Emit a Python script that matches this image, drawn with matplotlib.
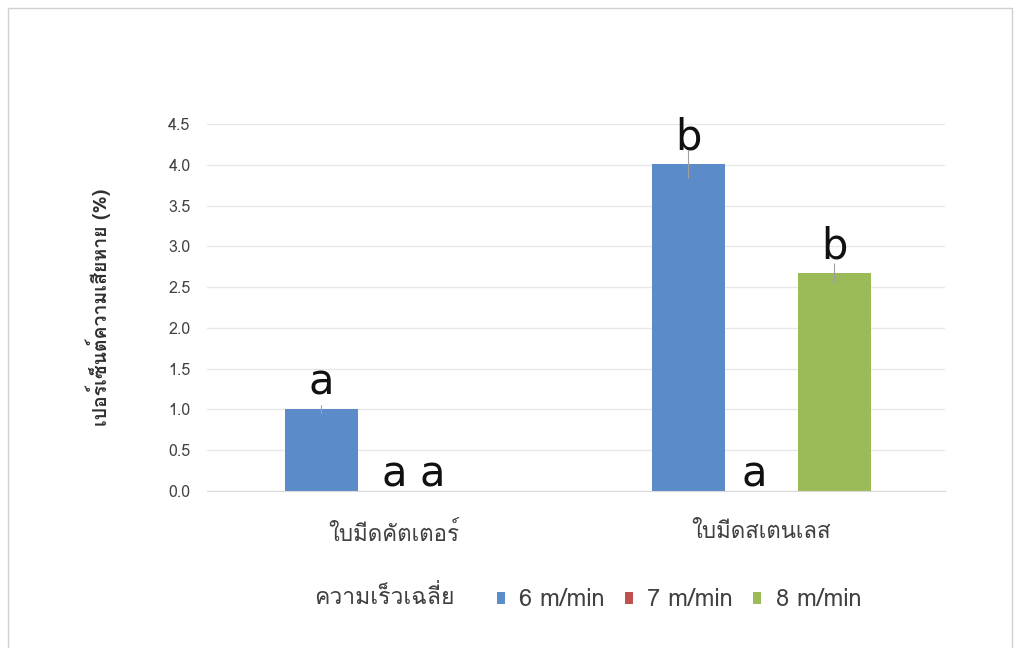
import numpy as np
import matplotlib
matplotlib.use("Agg")
import matplotlib.pyplot as plt
from matplotlib import font_manager
from matplotlib.ft2font import FT2Font
from matplotlib.patches import Rectangle

# data
groups = ["ใบมีดคัตเตอร์", "ใบมีดสเตนเลส"]
series = ["6 m/min", "7 m/min", "8 m/min"]
v6 = [1.00, 4.01]
v7 = [0.0, 0.0]
v8 = [0.0, 2.67]
e6 = [0.05, 0.17]
e7 = [0.0, 0.0]
e8 = [0.0, 0.12]
let6 = ["a", "b"]
let7 = ["a", "a"]
let8 = ["a", "b"]
colors = ["#5B8BC9", "#C0504D", "#9BBB59"]


def thai_font():
    # look for an installed font that covers Thai
    for f in font_manager.fontManager.ttflist:
        try:
            ft = FT2Font(f.fname)
            if ft.get_char_index(ord("ก")) and ft.get_char_index(ord("a")):
                return f.name
        except Exception:
            pass
    return "DejaVu Sans"


th = thai_font()
plt.rcParams["font.family"] = [th, "DejaVu Sans"]

fig = plt.figure(figsize=(10.2, 6.48), dpi=100)
fig.patches.append(Rectangle((0.008, -0.1), 0.984, 1.088, transform=fig.transFigure,
                             fill=False, edgecolor="#d0d0d0", lw=1))
ax = fig.add_axes([0.203, 0.2423, 0.7235, 0.5663])

x = np.arange(len(groups))
w = 0.199
vals = [v6, v7, v8]
errs = [e6, e7, e8]
lets = [let6, let7, let8]
# sideways nudges (points) for a couple of letters
nudge = {(2, 0): -25, (1, 1): -5}
for i in range(3):
    xs = x + (i - 1) * w
    ax.bar(xs, vals[i], w, color=colors[i], label=series[i], zorder=2)
    ax.errorbar(xs, vals[i], yerr=errs[i], fmt="none", ecolor="#a0a0a0", elinewidth=0.8, capsize=0, zorder=3)
    for j in range(len(groups)):
        off = 10.5 if vals[i][j] > 0 else 3
        ax.annotate(lets[i][j], (xs[j], vals[i][j]), xytext=(nudge.get((i, j), 0), off),
                    textcoords="offset points", ha="center", va="baseline",
                    fontsize=30, family="DejaVu Sans", color="#111111", zorder=4)

ax.set_xlim(-0.51, 1.501)
ax.set_ylim(0, 4.5)
ticks = np.arange(0, 4.51, 0.5)
ax.set_yticks(ticks)
ax.set_yticklabels(["{:.1f}".format(t) for t in ticks], fontsize=11.5, color="#404040")
ax.set_xticks(x)
ax.set_xticklabels(groups, fontsize=16, color="#404040")
ax.tick_params(axis="y", length=0, pad=12)
ax.tick_params(axis="x", length=0, pad=22)
ax.grid(axis="y", color="#e8e8e8", lw=1, zorder=0)
for s in ["top", "right", "left"]:
    ax.spines[s].set_visible(False)
ax.spines["bottom"].set_color("#d9d9d9")
ax.set_ylabel("เปอร์เซ็นต์ความเสียหาย (%)", fontsize=14, fontweight="bold", color="#303030", labelpad=41)

# legend: title on the left, entries in one row
fig.text(314 / 1020, 1 - 597 / 648, "ความเร็วเฉลี่ย", ha="left", va="center", fontsize=16.5, color="#404040")
leg = fig.legend(loc="center left", bbox_to_anchor=(497 / 1020, 1 - 600 / 648), ncol=3,
                 frameon=False, fontsize=17, handlelength=0.35, handleheight=0.35,
                 handletextpad=0.6, columnspacing=0.85, borderpad=0, borderaxespad=0)
for t in leg.get_texts():
    t.set_color("#404040")

fig.savefig("out.png", dpi=100, facecolor="white")
